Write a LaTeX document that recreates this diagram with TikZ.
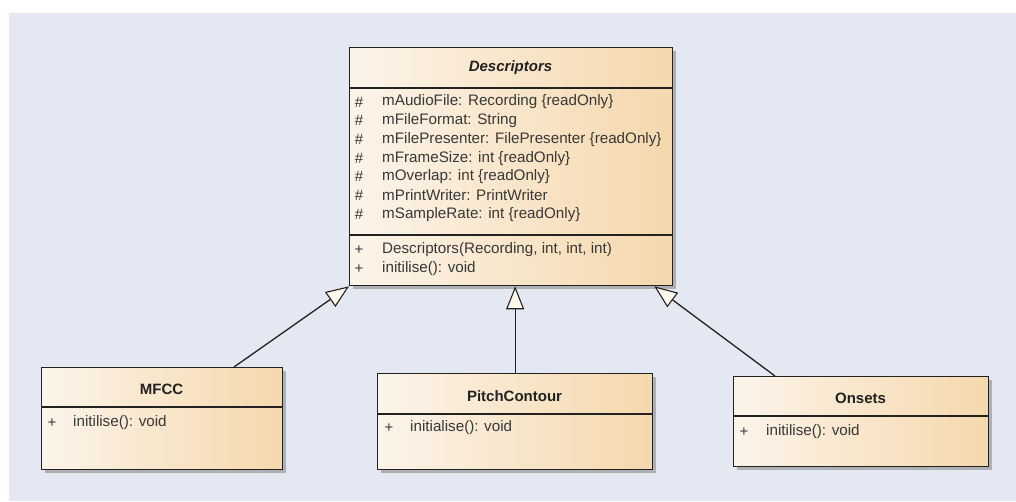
\documentclass[tikz,border=0pt]{standalone}
\usepackage{fontspec}
\setmainfont{Liberation Sans}
\usetikzlibrary{arrows.meta,calc,shadows}
\definecolor{bg}{HTML}{E3E8F2}
\definecolor{boxL}{HTML}{FCF4EA}
\definecolor{boxR}{HTML}{F5D8AC}
\definecolor{edge}{HTML}{222222}
\definecolor{txt}{HTML}{383838}
\definecolor{tipfill}{HTML}{FFF8EC}
\begin{document}
\begin{tikzpicture}[x=1pt,y=-1pt,
  classbox/.style={draw=edge, line width=1.3pt, left color=boxL, right color=boxR,
    inner sep=0pt, anchor=north west,
    drop shadow={shadow xshift=3pt, shadow yshift=-3pt, fill=black!45, opacity=0.6}},
  sepline/.style={draw=edge, line width=1.2pt},
  member/.style={anchor=west, inner sep=0pt, text=txt, font=\fontsize{15.2}{17}\selectfont},
  vis/.style={anchor=center, inner sep=0pt, text=txt, font=\fontsize{15}{17}\selectfont},
  title/.style={anchor=center, inner sep=0pt, text=edge, font=\fontsize{15}{17}\selectfont\bfseries},
  gen/.style={draw=edge, line width=1.3pt,
    -{Triangle[length=23pt, width=18pt, fill=tipfill, line width=1.1pt]}}
]
\useasboundingbox (0,0) rectangle (1016,501);
\fill[bg] (9,13) rectangle (1016,501);

% Descriptors
\node[classbox, minimum width=323pt, minimum height=238pt] (desc) at (349,47) {};
\draw[sepline] (349,88) -- (672,88);
\draw[sepline] (349,235) -- (672,235);
\node[title, font=\fontsize{15}{17}\selectfont\bfseries\itshape] (dtitle) at (510.5,68) {Descriptors};
\foreach \i/\t in {0/{mAudioFile: Recording \{readOnly\}},
                   1/{mFileFormat: String},
                   2/{mFilePresenter: FilePresenter \{readOnly\}},
                   3/{mFrameSize: int \{readOnly\}},
                   4/{mOverlap: int \{readOnly\}},
                   5/{mPrintWriter: PrintWriter},
                   6/{mSampleRate: int \{readOnly\}}} {
  \node[vis] (dh\i) at (359,102+18.7*\i) {\#};
  \node[member] (da\i) at (382,102+18.7*\i) {\t};
}
\node[vis] (dp1) at (359,250) {+};
\node[member] (do1) at (382,250) {Descriptors(Recording, int, int, int)};
\node[vis] (dp2) at (359,269) {+};
\node[member] (do2) at (382,269) {initilise(): void};

% MFCC
\node[classbox, minimum width=241pt, minimum height=102pt] (mfcc) at (41,367) {};
\draw[sepline] (41,407) -- (282,407);
\node[title] (mtitle) at (161.5,389) {MFCC};
\node[vis] (mp) at (52,423) {+};
\node[member] (mo) at (73,423) {initilise(): void};

% PitchContour
\node[classbox, minimum width=275pt, minimum height=96pt] (pitch) at (377,373) {};
\draw[sepline] (377,414) -- (652,414);
\node[title] (ptitle) at (514.5,396) {PitchContour};
\node[vis] (pp) at (389,428) {+};
\node[member] (po) at (410,428) {initialise(): void};

% Onsets
\node[classbox, minimum width=255pt, minimum height=90pt] (onsets) at (733,376) {};
\draw[sepline] (733,416) -- (988,416);
\node[title] (otitle) at (860.5,398) {Onsets};
\node[vis] (op) at (744,432) {+};
\node[member] (oo) at (766,432) {initilise(): void};

% generalizations
\draw[gen] ($(mfcc.north west)+(193,0)$) -- (desc.south west);
\draw[gen] (pitch.north) -- (pitch.north |- desc.south);
\draw[gen] ($(onsets.north west)+(42,0)$) -- ($(desc.south east)+(-19,0)$);
\end{tikzpicture}
\end{document}
